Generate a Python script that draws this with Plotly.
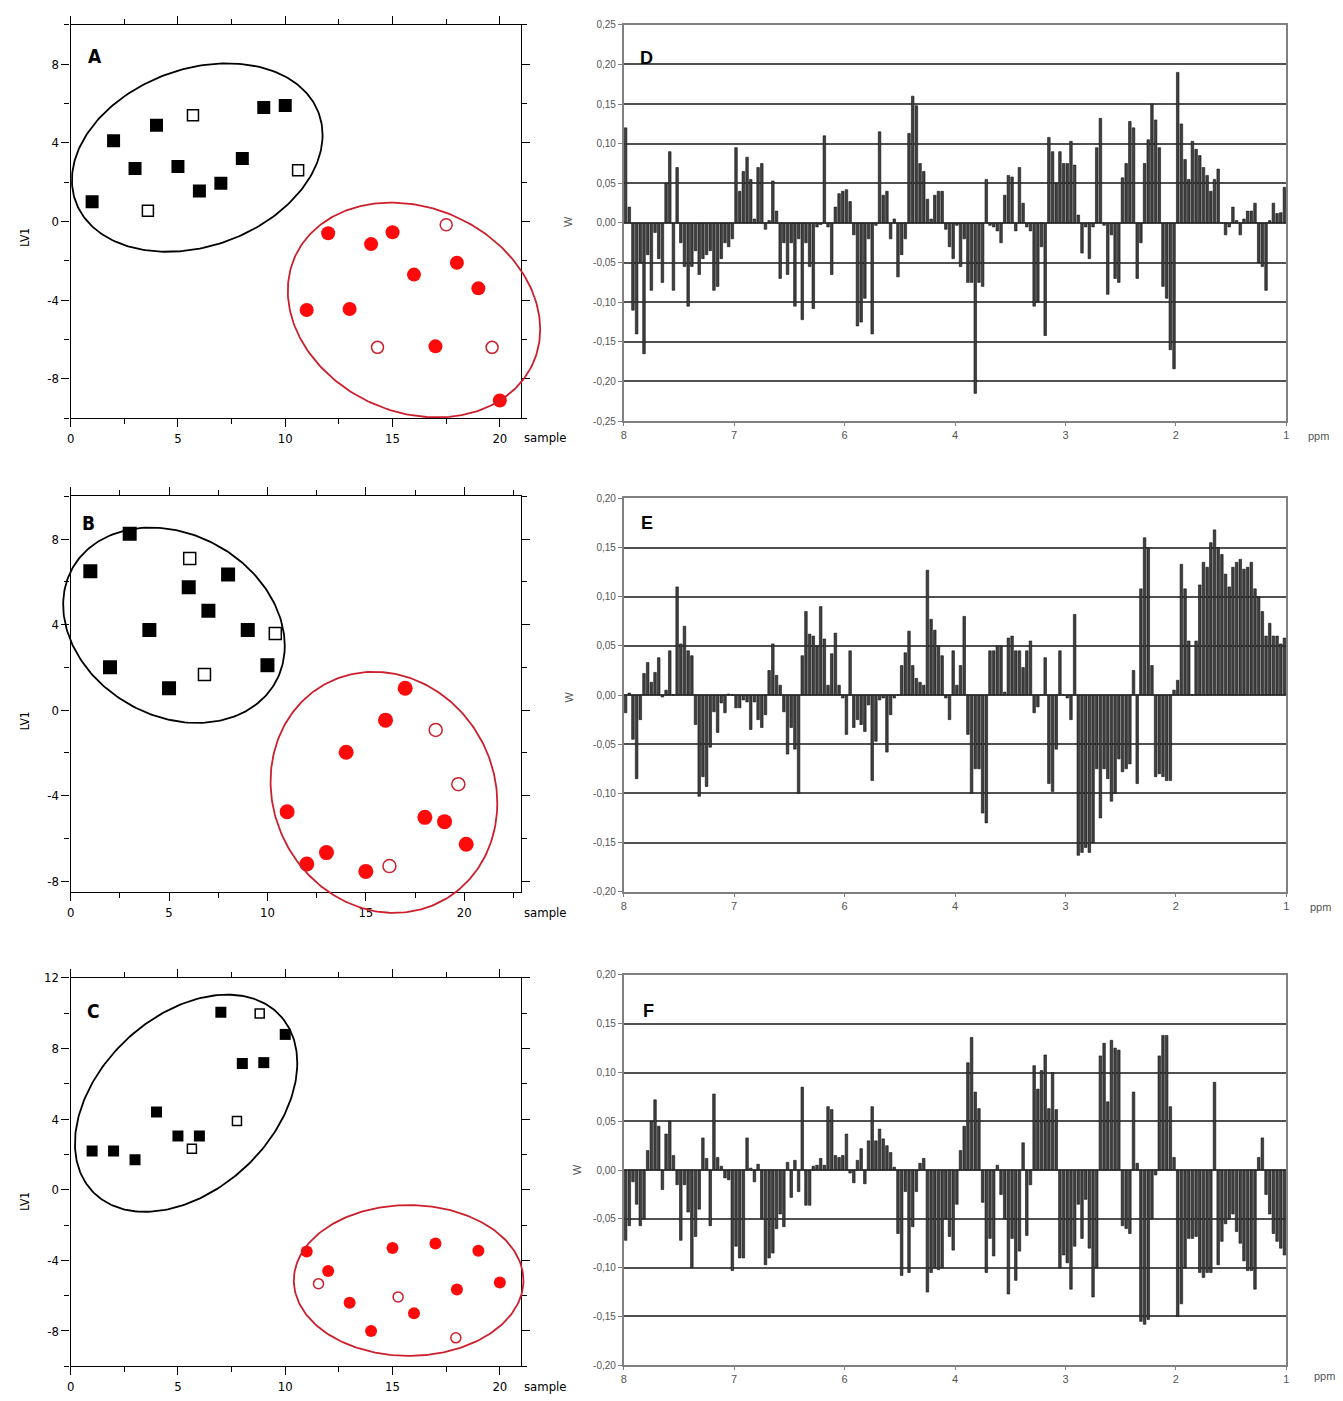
import numpy as np
import plotly.graph_objects as go

W_PX, H_PX = 1343, 1401

# ---------------- scatter panels (A, B, C): sample vs LV1 ----------------
# Panel A
a_fill_sq_x = [1, 2, 3, 4, 5, 6, 7, 8, 9, 10]
a_fill_sq_y = [1.0, 4.1, 2.7, 4.9, 2.8, 1.55, 1.95, 3.2, 5.8, 5.9]
a_open_sq_x = [3.6, 5.7, 10.6]
a_open_sq_y = [0.55, 5.4, 2.6]
a_fill_ci_x = [11, 12, 13, 14, 15, 16, 17, 18, 19, 20]
a_fill_ci_y = [-4.5, -0.6, -4.45, -1.15, -0.55, -2.7, -6.35, -2.1, -3.4, -9.1]
a_open_ci_x = [14.3, 17.5, 19.64]
a_open_ci_y = [-6.4, -0.17, -6.4]

# Panel B
b_fill_sq_x = [1, 2, 3, 4, 5, 6, 7, 8, 9, 10]
b_fill_sq_y = [6.5, 2.0, 8.25, 3.75, 1.02, 5.75, 4.65, 6.35, 3.75, 2.1]
b_open_sq_x = [6.05, 6.8, 10.4]
b_open_sq_y = [7.1, 1.67, 3.58]
b_fill_ci_x = [11, 12, 13, 14, 15, 16, 17, 18, 19, 20.1]
b_fill_ci_y = [-4.76, -7.2, -6.67, -1.97, -7.55, -0.47, 1.02, -5.02, -5.22, -6.28]
b_open_ci_x = [16.2, 18.55, 19.7]
b_open_ci_y = [-7.3, -0.93, -3.47]

# Panel C
c_fill_sq_x = [1, 2, 3, 4, 5, 6, 7, 8, 9, 10]
c_fill_sq_y = [2.2, 2.2, 1.7, 4.4, 3.05, 3.05, 10.05, 7.15, 7.2, 8.8]
c_open_sq_x = [5.65, 7.75, 8.81]
c_open_sq_y = [2.32, 3.9, 9.98]
c_fill_ci_x = [11, 12, 13, 14, 15, 16, 17, 18, 19, 20]
c_fill_ci_y = [-3.5, -4.6, -6.4, -8.0, -3.3, -7.0, -3.05, -5.65, -3.45, -5.25]
c_open_ci_x = [11.55, 15.26, 17.95]
c_open_ci_y = [-5.32, -6.07, -8.39]

# ellipses: (centre x, centre y, half-width x, half-height y, correlation)
a_ell_black = (5.9, 3.25, 5.84, 4.79, 0.24)
a_ell_red = (16.0, -4.5, 5.88, 5.46, -0.18)
b_ell_black = (5.25, 3.97, 5.63, 4.57, -0.21)
b_ell_red = (15.92, -3.85, 5.76, 5.64, -0.09)
c_ell_black = (5.38, 4.9, 5.18, 6.15, 0.37)
c_ell_red = (15.75, -5.14, 5.35, 4.27, 0.0)

# ---------------- bar panels (D, E, F): W vs ppm ----------------
ppm_labels = ["8", "7", "6", "4", "3", "2", "1"]
bars_per_interval = 30

w_d = [
    0.12, 0.02, -0.11, -0.14, -0.05, -0.165, -0.04, -0.085, -0.012, -0.045, -0.075, 0.05, 0.09, -0.085, 0.07,
    -0.025, -0.055, -0.105, -0.055, -0.035, -0.065, -0.045, -0.04, -0.035, -0.085, -0.08, -0.045, -0.025, -0.03, -0.02,
    0.095, 0.04, 0.065, 0.083, 0.055, 0.005, 0.07, 0.075, -0.008, 0.003, 0.053, 0.015, -0.07, -0.025, -0.065,
    -0.025, -0.105, -0.02, -0.122, -0.025, -0.055, -0.108, -0.005, -0.002, 0.11, -0.005, -0.065, 0.02, 0.037, 0.04,
    0.042, 0.027, -0.015, -0.13, -0.125, -0.095, -0.02, -0.14, -0.003, 0.115, 0.035, 0.04, -0.02, 0.005, -0.068,
    -0.04, -0.02, 0.113, 0.16, 0.148, 0.075, 0.065, 0.03, 0.005, 0.035, 0.04, 0.04, -0.008, -0.03, -0.045,
    -0.003, -0.055, -0.02, -0.075, -0.075, -0.215, -0.075, -0.08, 0.055, -0.003, -0.005, -0.01, -0.025, 0.035, 0.06,
    0.058, -0.01, 0.07, 0.025, -0.005, -0.01, -0.105, -0.1, -0.03, -0.142, 0.108, 0.09, 0.05, 0.09, 0.075,
    0.075, 0.103, 0.073, 0.01, -0.038, -0.005, -0.045, -0.005, 0.095, 0.132, -0.003, -0.09, -0.015, -0.07, -0.075,
    0.057, 0.075, 0.128, 0.12, -0.07, -0.025, 0.075, 0.105, 0.15, 0.13, 0.095, -0.08, -0.095, -0.16, -0.184,
    0.19, 0.125, 0.08, 0.055, 0.103, 0.093, 0.085, 0.07, 0.06, 0.04, 0.055, 0.068, 0.0, -0.015, -0.005,
    0.02, 0.003, -0.015, 0.005, 0.015, 0.015, 0.025, -0.05, -0.055, -0.085, 0.003, 0.025, 0.012, 0.013, 0.045,
]
w_e = [
    -0.018, 0.002, -0.045, -0.085, -0.025, 0.022, 0.033, 0.013, 0.023, 0.038, -0.002, 0.005, 0.045, 0.0, 0.11,
    0.052, 0.07, 0.045, 0.04, -0.03, -0.103, -0.083, -0.093, -0.053, -0.017, -0.038, -0.008, -0.018, 0.001, 0.0,
    -0.013, -0.013, -0.005, -0.007, -0.035, -0.007, -0.025, -0.033, -0.02, 0.025, 0.052, 0.02, 0.01, -0.017, -0.06,
    -0.033, -0.055, -0.1, 0.04, 0.085, 0.062, 0.06, 0.05, 0.09, 0.057, 0.01, 0.042, 0.063, 0.01, -0.003,
    -0.04, 0.045, -0.033, -0.025, -0.03, -0.037, -0.01, -0.087, -0.047, -0.005, -0.003, -0.058, -0.02, -0.003, 0.0,
    0.03, 0.043, 0.065, 0.03, 0.017, 0.013, 0.01, 0.127, 0.077, 0.066, 0.05, 0.04, -0.003, -0.025, 0.045,
    0.01, 0.03, 0.08, -0.04, -0.1, -0.075, -0.075, -0.12, -0.13, 0.045, 0.045, 0.05, 0.05, 0.003, 0.058,
    0.06, 0.045, 0.045, 0.028, 0.045, 0.055, -0.018, -0.012, 0.0, 0.038, -0.09, -0.098, -0.055, 0.045, 0.0,
    -0.003, -0.025, 0.082, -0.163, -0.16, -0.155, -0.16, -0.15, -0.075, -0.125, -0.075, -0.085, -0.108, -0.1, -0.065,
    -0.078, -0.075, -0.07, 0.025, -0.09, 0.108, 0.16, 0.15, 0.03, -0.083, -0.08, -0.083, -0.087, -0.087, 0.005,
    0.015, 0.133, 0.108, 0.055, 0.0, 0.055, 0.112, 0.135, 0.13, 0.155, 0.168, 0.15, 0.143, 0.123, 0.11,
    0.13, 0.135, 0.138, 0.128, 0.13, 0.135, 0.108, 0.1, 0.085, 0.06, 0.073, 0.06, 0.06, 0.052, 0.058,
]
w_f = [
    -0.072, -0.057, -0.012, -0.035, -0.057, -0.05, 0.02, 0.05, 0.072, 0.045, -0.02, 0.037, 0.05, 0.015, -0.015,
    -0.072, -0.015, -0.043, -0.1, -0.068, -0.04, 0.033, 0.012, -0.057, 0.078, 0.013, 0.004, -0.008, -0.01, -0.103,
    -0.078, -0.09, -0.09, 0.033, 0.002, -0.012, 0.006, -0.05, -0.097, -0.09, -0.085, -0.06, -0.045, -0.058, 0.008,
    -0.028, 0.01, -0.022, 0.085, -0.036, -0.036, 0.004, 0.005, 0.012, 0.005, 0.065, 0.062, 0.015, 0.013, 0.015,
    0.037, -0.003, -0.013, 0.01, 0.022, -0.014, 0.03, 0.065, 0.03, 0.042, 0.032, 0.025, 0.018, 0.003, -0.065,
    -0.108, -0.022, -0.105, -0.058, -0.022, 0.007, 0.012, -0.125, -0.105, -0.1, -0.102, -0.1, -0.05, -0.068, -0.082,
    -0.035, 0.02, 0.045, 0.11, 0.136, 0.08, 0.063, -0.033, -0.105, -0.07, -0.088, 0.005, -0.025, -0.05, -0.127,
    -0.07, -0.113, -0.083, 0.028, -0.067, -0.015, 0.107, 0.083, 0.102, 0.118, 0.063, 0.1, 0.062, -0.1, -0.087,
    -0.095, -0.122, -0.078, -0.035, -0.07, -0.03, -0.08, -0.13, -0.1, 0.117, 0.13, 0.07, 0.133, 0.125, 0.123,
    -0.057, -0.06, -0.065, 0.08, 0.007, -0.155, -0.158, -0.153, -0.05, -0.005, 0.117, 0.138, 0.138, 0.065, 0.013,
    -0.15, -0.137, -0.1, -0.07, -0.07, -0.068, -0.105, -0.11, -0.105, -0.105, 0.09, -0.097, -0.073, -0.055, -0.05,
    -0.045, -0.063, -0.075, -0.093, -0.103, -0.103, -0.122, 0.013, 0.033, -0.025, -0.045, -0.065, -0.073, -0.08, -0.087,
]

w_d_ticks = [0.25, 0.20, 0.15, 0.10, 0.05, 0.0, -0.05, -0.10, -0.15, -0.20, -0.25]
w_d_ticktext = ["0,25", "0,20", "0,15", "0,10", "0,05", "0,00", "-0,05", "-0,10", "-0,15", "-0,20", "-0,25"]
w_ef_ticks = [0.20, 0.15, 0.10, 0.05, 0.0, -0.05, -0.10, -0.15, -0.20]
w_ef_ticktext = ["0,20", "0,15", "0,10", "0,05", "0,00", "-0,05", "-0,10", "-0,15", "-0,20"]

# ---------------- layout helpers ----------------
def dx(l, r):
    return [l / W_PX, r / W_PX]

def dy(t, b):
    return [1 - b / H_PX, 1 - t / H_PX]

NARROW = "Liberation Sans Narrow, DejaVu Sans Condensed, Arial Narrow, Liberation Sans, sans-serif"
SANS = "Liberation Sans, Arial, DejaVu Sans, sans-serif"
RED = "#ff0a0a"
RED_LINE = "#cc1f2c"

fig = go.Figure()
layout = dict(
    width=W_PX, height=H_PX, margin=dict(l=0, r=0, t=0, b=0),
    paper_bgcolor="white", plot_bgcolor="rgba(0,0,0,0)", showlegend=False,
    bargap=0.25,
)

def axname(i, kind):
    return f"{kind}axis" if i == 1 else f"{kind}axis{i}"

def ref(i, kind):
    return kind if i == 1 else f"{kind}{i}"

scatter_panels = [
    (1, (67, 520, 18, 415), [0, 21], [-10, 10], [8, 4, 0, -4, -8],
     (a_fill_sq_x, a_fill_sq_y, a_open_sq_x, a_open_sq_y, a_fill_ci_x, a_fill_ci_y, a_open_ci_x, a_open_ci_y),
     (a_ell_black, a_ell_red), 13),
    (2, (67, 520, 494, 893), [0, 22.9], [-8.5, 10], [8, 4, 0, -4, -8],
     (b_fill_sq_x, b_fill_sq_y, b_open_sq_x, b_open_sq_y, b_fill_ci_x, b_fill_ci_y, b_open_ci_x, b_open_ci_y),
     (b_ell_black, b_ell_red), 14),
    (3, (67, 520, 980, 1372), [0, 21], [-10, 12], [12, 8, 4, 0, -4, -8],
     (c_fill_sq_x, c_fill_sq_y, c_open_sq_x, c_open_sq_y, c_fill_ci_x, c_fill_ci_y, c_open_ci_x, c_open_ci_y),
     (c_ell_black, c_ell_red), 11),
]

PAD = 60  # px of extra room for ellipses that cross the frame

for idx, (l, r, t, b), xr, yr, ylabs, pts, ells, msize in scatter_panels:
    common = dict(showline=True, linecolor="black", linewidth=1.4, mirror="ticks",
                  ticks="outside", ticklen=8, tickwidth=1.3, tickcolor="black",
                  showgrid=False, zeroline=False,
                  tickfont=dict(family=NARROW, size=13, color="black"))
    layout[axname(idx, "x")] = dict(
        domain=dx(l, r), range=xr, anchor=ref(idx, "y"),
        tickvals=[0, 5, 10, 15, 20], ticktext=["0", "5", "10", "15", "20"],
        minor=dict(dtick=2.5, tick0=0, ticks="outside", ticklen=5, tickcolor="black", showgrid=False),
        **common)
    layout[axname(idx, "y")] = dict(
        domain=dy(t, b), range=yr, anchor=ref(idx, "x"),
        tickvals=ylabs, ticktext=[str(v) for v in ylabs],
        minor=dict(dtick=2, tick0=0, ticks="outside", ticklen=5, tickcolor="black", showgrid=False),
        **common)

    fsx, fsy, osx, osy, fcx, fcy, ocx, ocy = pts
    xa, ya = ref(idx, "x"), ref(idx, "y")
    fig.add_trace(go.Scatter(x=fsx, y=fsy, mode="markers", xaxis=xa, yaxis=ya,
                             marker=dict(symbol="square", size=msize, color="black")))
    fig.add_trace(go.Scatter(x=osx, y=osy, mode="markers", xaxis=xa, yaxis=ya,
                             marker=dict(symbol="square-open", size=msize - 2, color="black",
                                         line=dict(width=1.5))))
    fig.add_trace(go.Scatter(x=fcx, y=fcy, mode="markers", xaxis=xa, yaxis=ya,
                             marker=dict(symbol="circle", size=msize + 1, color=RED)))
    fig.add_trace(go.Scatter(x=ocx, y=ocy, mode="markers", xaxis=xa, yaxis=ya,
                             marker=dict(symbol="circle-open", size=msize - 1, color=RED_LINE,
                                         line=dict(width=1.5))))

    # extended invisible axes (same scale) so ellipses can cross the frame
    eidx = idx + 6
    d0x, d1x = dx(l, r)
    d0y, d1y = dy(t, b)
    ex0, ex1 = max(0, d0x - PAD / W_PX), min(1, d1x + PAD / W_PX)
    ey0, ey1 = max(0, d0y - PAD / H_PX), min(1, d1y + PAD / H_PX)
    sx = (xr[1] - xr[0]) / (d1x - d0x)
    sy = (yr[1] - yr[0]) / (d1y - d0y)
    layout[axname(eidx, "x")] = dict(domain=[ex0, ex1], range=[xr[0] - (d0x - ex0) * sx, xr[1] + (ex1 - d1x) * sx],
                                     anchor=ref(eidx, "y"), visible=False, showgrid=False, zeroline=False)
    layout[axname(eidx, "y")] = dict(domain=[ey0, ey1], range=[yr[0] - (d0y - ey0) * sy, yr[1] + (ey1 - d1y) * sy],
                                     anchor=ref(eidx, "x"), visible=False, showgrid=False, zeroline=False)
    tt = np.linspace(0, 2 * np.pi, 240)
    for (cx, cy, ax_, ay_, rho), col in zip(ells, ["black", RED_LINE]):
        ex = cx + ax_ * np.cos(tt)
        ey = cy + ay_ * (rho * np.cos(tt) + np.sqrt(1 - rho ** 2) * np.sin(tt))
        fig.add_trace(go.Scatter(x=ex, y=ey, mode="lines", xaxis=ref(eidx, "x"), yaxis=ref(eidx, "y"),
                                 line=dict(color=col, width=1.8), hoverinfo="skip"))

bar_panels = [
    (4, (623, 1289, 18, 418), w_d, [-0.25, 0.25], w_d_ticks, w_d_ticktext),
    (5, (623, 1289, 496, 893), w_e, [-0.20, 0.20], w_ef_ticks, w_ef_ticktext),
    (6, (623, 1289, 977, 1371), w_f, [-0.20, 0.20], w_ef_ticks, w_ef_ticktext),
]
n_int = len(ppm_labels) - 1
for idx, (l, r, t, b), vals, yr, ytv, ytt in bar_panels:
    pos = (np.arange(len(vals)) + 0.5) / bars_per_interval
    fig.add_trace(go.Bar(x=pos, y=vals, xaxis=ref(idx, "x"), yaxis=ref(idx, "y"),
                         width=0.7 / bars_per_interval,
                         marker=dict(color="#404040", line=dict(color="#111111", width=0.6))))
    layout[axname(idx, "x")] = dict(
        domain=dx(l, r), range=[0, n_int], anchor=ref(idx, "y"),
        tickvals=list(range(n_int + 1)), ticktext=ppm_labels,
        showline=True, linecolor="#808080", linewidth=1.8, mirror=True,
        ticks="outside", ticklen=3, tickcolor="#808080",
        showgrid=False, zeroline=False,
        tickfont=dict(family=SANS, size=11, color="#555"))
    layout[axname(idx, "y")] = dict(
        domain=dy(t, b), range=yr, anchor=ref(idx, "x"),
        tickvals=ytv, ticktext=ytt,
        showline=True, linecolor="#808080", linewidth=1.8, mirror=True,
        ticks="outside", ticklen=4, tickcolor="#808080",
        showgrid=True, gridcolor="#505050", gridwidth=1.5, zeroline=False,
        tickfont=dict(family=SANS, size=10, color="#555"))

fig.update_layout(**layout)

# ---------------- text labels ----------------
def ann(px, py, text, size, family=SANS, bold=False, angle=0, color="black"):
    t = f"<b>{text}</b>" if bold else text
    fig.add_annotation(x=px / W_PX, y=1 - py / H_PX, xref="paper", yref="paper", text=t,
                       showarrow=False, textangle=angle, xanchor="center", yanchor="middle",
                       font=dict(family=family, size=size, color=color))

for txt, px, py in [("A", 91, 49), ("B", 85, 521), ("C", 90, 1013)]:
    ann(px, py, txt, 19, family=NARROW, bold=True)
for txt, px, py in [("D", 646, 51), ("E", 646, 521), ("F", 648, 1013)]:
    ann(px, py, txt, 18, bold=True)
for py in [435, 914, 1392]:
    ann(544, py, "sample", 13, family=NARROW)
for py in [232, 720, 1205]:
    ann(21, py, "LV1", 12, family=NARROW, angle=-90)
for px, py in [(1321, 433), (1323, 908), (1327, 1382)]:
    ann(px, py, "ppm", 11, color="#555")
for px, py in [(567, 217), (567, 697), (576, 1173)]:
    ann(px, py, "W", 11, angle=-90, color="#555")

fig.write_html("out.html")
